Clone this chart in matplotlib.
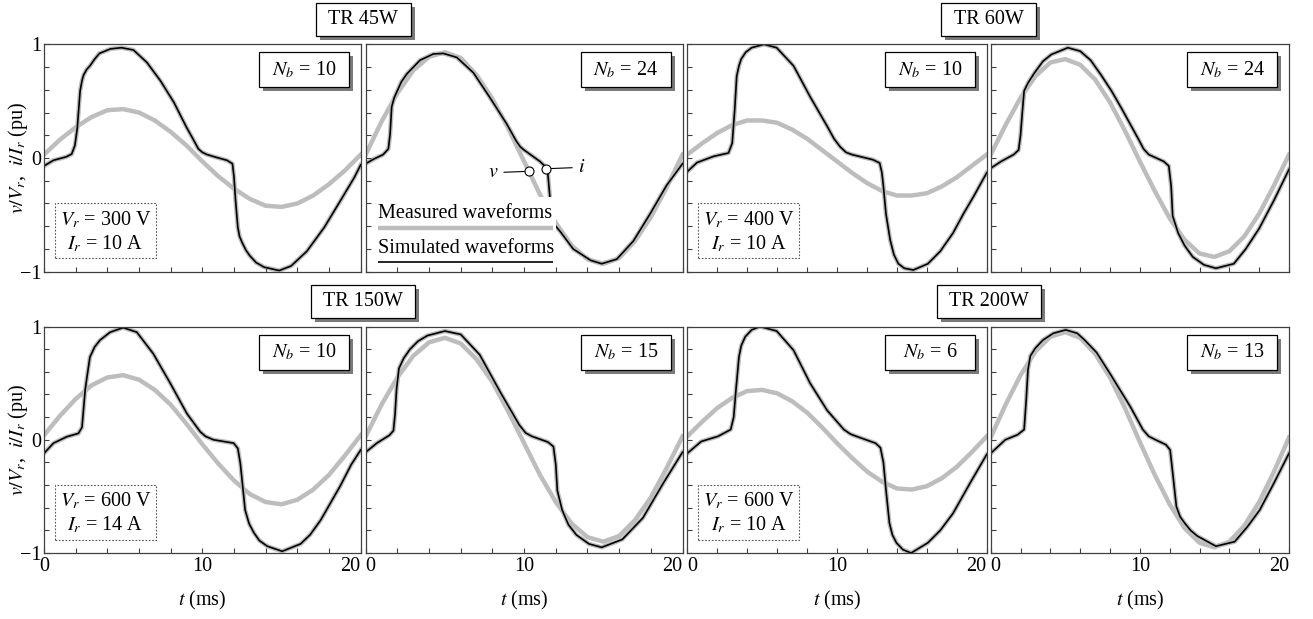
import matplotlib
matplotlib.use("Agg")
import matplotlib.pyplot as plt
import numpy as np
from matplotlib.patches import Rectangle

plt.rcParams["font.family"] = ["Liberation Serif", "DejaVu Serif"]
plt.rcParams["mathtext.fontset"] = "stix"
plt.rcParams["font.size"] = 14.5

# sample times (ms) of the voltage traces
T_V = np.arange(0, 21, 1.0)

# TR 45W, Nb = 10
V_45_10 = [0.03, 0.16, 0.27, 0.36, 0.42, 0.43, 0.40, 0.33, 0.23, 0.11, -0.03,
           -0.16, -0.27, -0.36, -0.42, -0.43, -0.40, -0.33, -0.23, -0.11, 0.03]
T_I_45_10 = [0, 0.6, 1.4, 1.75, 1.95, 2.1, 2.28, 2.4, 2.5, 2.7, 2.9, 3.2, 3.5,
             4.2, 4.9, 5.65, 6.5, 7.35, 8.2, 9.0, 9.4, 9.75, 10.0, 10.3, 10.9,
             11.55, 11.9, 12.0, 12.1, 12.24, 12.35, 12.5, 12.75, 13.0, 13.4,
             13.9, 14.85, 15.6, 16.6, 17.7, 18.7, 19.6, 20]
I_45_10 = [-0.07, -0.02, 0.01, 0.035, 0.11, 0.26, 0.59, 0.68, 0.73, 0.78, 0.81,
           0.87, 0.92, 0.96, 0.97, 0.95, 0.84, 0.68, 0.49, 0.27, 0.17, 0.08,
           0.05, 0.03, 0.005, -0.02, -0.05, -0.17, -0.38, -0.61, -0.69, -0.74,
           -0.81, -0.86, -0.92, -0.96, -0.99, -0.95, -0.82, -0.61, -0.38,
           -0.17, -0.06]

# TR 45W, Nb = 24
V_45_24 = [0.03, 0.32, 0.57, 0.77, 0.89, 0.93, 0.88, 0.73, 0.52, 0.26, -0.03,
           -0.32, -0.57, -0.77, -0.89, -0.93, -0.88, -0.73, -0.52, -0.26, 0.03]
T_I_45_24 = [0, 0.5, 1.1, 1.43, 1.54, 1.64, 1.8, 1.96, 2.25, 2.6, 3.43, 4.27,
             4.9, 5.75, 6.8, 7.85, 8.9, 9.5, 9.75, 10.0, 10.5, 11.0, 11.3, 11.5,
             11.6, 11.7, 11.85, 12.0, 12.3, 13.1, 14.2, 14.9, 15.85, 16.9,
             17.96, 19.0, 20]
I_45_24 = [-0.05, -0.01, 0.03, 0.08, 0.21, 0.45, 0.53, 0.58, 0.67, 0.74, 0.86,
           0.915, 0.92, 0.885, 0.75, 0.53, 0.30, 0.15, 0.10, 0.07, 0.02, -0.03,
           -0.07, -0.14, -0.30, -0.45, -0.56, -0.60, -0.65, -0.80, -0.90,
           -0.93, -0.89, -0.73, -0.49, -0.24, -0.05]

# TR 60W, Nb = 10
V_60_10 = [0.03, 0.13, 0.22, 0.29, 0.33, 0.33, 0.31, 0.25, 0.17, 0.07, -0.03,
           -0.13, -0.22, -0.29, -0.33, -0.33, -0.31, -0.25, -0.17, -0.07, 0.03]
T_I_60_10 = [0, 0.65, 1.77, 2.75, 3.0, 3.17, 3.3, 3.45, 3.6, 3.9, 4.3, 5.13,
             5.97, 7.1, 8.2, 9.34, 9.8, 10.2, 10.6, 11.0, 12.4, 12.85, 13.0,
             13.1, 13.27, 13.55, 13.8, 14.1, 14.5, 15.1, 16.07, 16.9, 17.75,
             18.45, 19.16, 20]
I_60_10 = [-0.12, -0.04, 0.015, 0.044, 0.13, 0.43, 0.72, 0.81, 0.87, 0.93,
           0.97, 1.0, 0.97, 0.81, 0.54, 0.28, 0.17, 0.10, 0.05, 0.03, -0.015,
           -0.044, -0.13, -0.25, -0.49, -0.72, -0.85, -0.93, -0.97, -0.985,
           -0.93, -0.82, -0.66, -0.49, -0.33, -0.13]

# TR 60W, Nb = 24
V_60_24 = [0.03, 0.29, 0.53, 0.72, 0.84, 0.87, 0.82, 0.69, 0.49, 0.24, -0.03,
           -0.29, -0.53, -0.72, -0.84, -0.87, -0.82, -0.69, -0.49, -0.24, 0.03]
T_I_60_24 = [0, 0.7, 1.54, 1.87, 2.0, 2.1, 2.24, 2.5, 2.94, 3.5, 4.06, 5.17,
             6.0, 6.7, 7.4, 8.1, 8.8, 9.93, 10.25, 10.6, 11.6, 11.94, 12.1,
             12.2, 12.57, 13.0, 13.55, 14.3, 15.1, 16.3, 17.1, 18.0, 19.0, 20]
I_60_24 = [-0.09, -0.03, 0.03, 0.07, 0.20, 0.37, 0.59, 0.66, 0.75, 0.85, 0.91,
           0.97, 0.94, 0.86, 0.73, 0.59, 0.43, 0.16, 0.08, 0.03, -0.03, -0.07,
           -0.25, -0.51, -0.66, -0.77, -0.87, -0.94, -0.97, -0.93, -0.80,
           -0.62, -0.37, -0.10]

# TR 150W, Nb = 10
V_150_10 = [0.04, 0.21, 0.36, 0.48, 0.55, 0.57, 0.53, 0.44, 0.31, 0.14, -0.04,
            -0.21, -0.36, -0.48, -0.55, -0.57, -0.53, -0.44, -0.31, -0.14, 0.04]
T_I_150_10 = [0, 0.6, 1.43, 2.17, 2.4, 2.6, 2.7, 2.9, 3.2, 3.54, 4.18, 5.0,
              5.86, 6.9, 7.97, 9.03, 9.87, 10.2, 10.7, 11.98, 12.24, 12.4,
              12.57, 12.7, 12.95, 13.25, 13.6, 14.1, 15.04, 16.2, 16.8, 17.47,
              18.7, 19.4, 20]
I_150_10 = [-0.12, -0.03, 0.026, 0.056, 0.11, 0.44, 0.54, 0.73, 0.82, 0.88,
            0.95, 0.99, 0.95, 0.76, 0.50, 0.23, 0.07, 0.03, 0.0, -0.03, -0.076,
            -0.21, -0.44, -0.62, -0.74, -0.82, -0.89, -0.94, -0.985, -0.92,
            -0.84, -0.71, -0.41, -0.22, -0.09]

# TR 150W, Nb = 15
V_150_15 = [0.03, 0.31, 0.55, 0.74, 0.86, 0.90, 0.85, 0.71, 0.51, 0.25, -0.03,
            -0.31, -0.55, -0.74, -0.86, -0.90, -0.85, -0.71, -0.51, -0.25, 0.03]
T_I_150_15 = [0, 0.7, 1.5, 1.75, 1.85, 1.95, 2.1, 2.4, 2.8, 3.3, 3.9, 5.0, 6.0,
              7.2, 8.5, 9.7, 10.1, 10.5, 11.5, 11.85, 12.0, 12.1, 12.4, 12.8,
              13.3, 14.1, 14.9, 16.2, 17.5, 18.8, 20]
I_150_15 = [-0.11, -0.03, 0.04, 0.08, 0.22, 0.45, 0.63, 0.72, 0.80, 0.87, 0.92,
            0.96, 0.93, 0.75, 0.42, 0.13, 0.06, 0.03, -0.02, -0.06, -0.22,
            -0.45, -0.62, -0.75, -0.84, -0.92, -0.95, -0.88, -0.69, -0.38,
            -0.11]

# TR 200W, Nb = 6
V_200_6 = [0.03, 0.16, 0.28, 0.37, 0.43, 0.44, 0.41, 0.34, 0.24, 0.11, -0.03,
           -0.16, -0.28, -0.37, -0.43, -0.44, -0.41, -0.34, -0.24, -0.11, 0.03]
T_I_200_6 = [0, 0.93, 2.05, 2.9, 3.1, 3.25, 3.45, 3.6, 3.87, 4.3, 4.85, 5.97,
             7.1, 8.2, 9.34, 10.46, 10.9, 11.3, 12.57, 12.9, 13.1, 13.27, 13.5,
             13.7, 13.97, 14.4, 14.95, 16.07, 16.9, 17.75, 18.9, 20]
I_200_6 = [-0.12, -0.015, 0.03, 0.09, 0.20, 0.44, 0.73, 0.83, 0.91, 0.97, 1.0,
           0.96, 0.79, 0.50, 0.26, 0.09, 0.05, 0.03, -0.03, -0.07, -0.20,
           -0.44, -0.735, -0.84, -0.91, -0.97, -1.0, -0.91, -0.80, -0.65,
           -0.38, -0.13]

# TR 200W, Nb = 13
V_200_13 = [0.02, 0.31, 0.57, 0.78, 0.91, 0.95, 0.90, 0.76, 0.55, 0.28, -0.02,
            -0.31, -0.57, -0.78, -0.91, -0.95, -0.90, -0.76, -0.55, -0.28, 0.02]
T_I_200_13 = [0, 0.98, 1.8, 2.24, 2.38, 2.5, 2.66, 3.0, 3.5, 4.2, 5.03, 5.8,
              6.3, 7.1, 7.97, 9.37, 10.2, 10.6, 11.05, 11.75, 12.03, 12.2,
              12.45, 12.7, 13.0, 13.4, 13.85, 15.1, 16.36, 17.2, 18.04, 19.0, 20]
I_200_13 = [-0.12, 0.0, 0.044, 0.09, 0.35, 0.62, 0.74, 0.81, 0.88, 0.94, 0.97,
            0.94, 0.88, 0.77, 0.59, 0.29, 0.09, 0.03, 0.0, -0.044, -0.09, -0.29,
            -0.59, -0.68, -0.735, -0.80, -0.85, -0.94, -0.90, -0.77, -0.62,
            -0.38, -0.12]

TITLES = ["TR 45W", "TR 60W", "TR 150W", "TR 200W"]
NB = [10, 24, 10, 24, 10, 15, 6, 13]
RATED = [("300 V", "10 A"), ("400 V", "10 A"), ("600 V", "14 A"), ("600 V", "10 A")]

VOLTAGES = [V_45_10, V_45_24, V_60_10, V_60_24, V_150_10, V_150_15, V_200_6, V_200_13]
CURRENT_T = [T_I_45_10, T_I_45_24, T_I_60_10, T_I_60_24,
             T_I_150_10, T_I_150_15, T_I_200_6, T_I_200_13]
CURRENTS = [I_45_10, I_45_24, I_60_10, I_60_24, I_150_10, I_150_15, I_200_6, I_200_13]

# layout in pixels, measured from the top-left corner
DPI = 100
FIG_W, FIG_H = 1313, 619
COLS = [(44, 360.7), (365.7, 682.5), (687.3, 986.7), (990.7, 1289)]
ROWS = [(44.3, 271.7), (326.5, 553)]

GRAY = "#bdbdbd"
FRAME = "#404040"


def fx(x):
    return x / FIG_W


def fy(y):
    return 1 - y / FIG_H


def add_box(fig, cx, cy, w, h, shadow=True, dotted=False):
    x0 = (cx - w / 2) / DPI
    y0 = (FIG_H - cy - h / 2) / DPI
    if shadow:
        fig.add_artist(Rectangle((x0 + 0.04, y0 - 0.04), w / DPI, h / DPI,
                                 transform=fig.dpi_scale_trans, fc="#7a7a7a",
                                 ec="none", zorder=5))
    if dotted:
        fig.add_artist(Rectangle((x0, y0), w / DPI, h / DPI,
                                 transform=fig.dpi_scale_trans, fc="white",
                                 ec="#555555", lw=0.8, ls=(0, (1.5, 1.5)), zorder=5))
    else:
        fig.add_artist(Rectangle((x0, y0), w / DPI, h / DPI,
                                 transform=fig.dpi_scale_trans, fc="white",
                                 ec="black", lw=0.9, zorder=5))


def draw_panel(fig, k):
    row, col = divmod(k, 4)
    left, right = COLS[col]
    top, bottom = ROWS[row]
    ax = fig.add_axes([fx(left), fy(bottom), fx(right - left), (bottom - top) / FIG_H])

    ax.plot(T_V, VOLTAGES[k], color=GRAY, lw=3.2, zorder=2)
    ax.plot(CURRENT_T[k], CURRENTS[k], color=GRAY, lw=3.2, zorder=2)
    ax.plot(CURRENT_T[k], CURRENTS[k], color="black", lw=1.2, zorder=2.1)

    ax.set_xlim(0, 20)
    ax.set_ylim(-1, 1)
    ax.set_xticks([0, 10, 20])
    ax.set_xticks(np.arange(0, 21, 2), minor=True)
    ax.set_yticks([-1, 0, 1])
    ax.set_yticks(np.linspace(-1, 1, 11), minor=True)
    ax.set_axisbelow(False)
    ax.tick_params(which="both", direction="in", length=3.8, width=0.8,
                   color=FRAME, top=False, right=False,
                   labelbottom=(row == 1), labelleft=(col == 0))
    ax.tick_params(axis="x", pad=3)
    ax.tick_params(axis="y", pad=2)
    for sp in ax.spines.values():
        sp.set_color(FRAME)
        sp.set_linewidth(0.9)

    if row == 1:
        # "20" ends at the right frame, the next panel's "0" starts after it
        labels = ax.get_xticklabels()
        labels[-1].set_ha("right")
        if col > 0:
            labels[0].set_ha("left")

    # N_b box in the upper right corner
    cx = right - 11.7 - 45
    cy = top + 8 + 17.5
    add_box(fig, cx, cy, 90, 35)
    fig.text(fx(cx), fy(cy), r"$N_b$ = %d" % NB[k], ha="center", va="center", zorder=6)

    if row == 1:
        fig.text(fx((left + right) / 2), fy(600), r"$t$ (ms)", ha="center", va="center")
    if col == 0:
        fig.text(fx(18), fy((top + bottom) / 2), r"$v/V_r$,  $i/I_r$ (pu)",
                 rotation=90, ha="center", va="center")
    return ax


def draw_rating(fig, k):
    row, col = divmod(k, 4)
    left = COLS[col][0]
    bottom = ROWS[row][1]
    vr, ir = RATED[k // 2]
    cx = left + 11 + 50.5
    cy = bottom - 13.5 - 27.5
    add_box(fig, cx, cy, 101, 55, shadow=False, dotted=True)
    fig.text(fx(cx), fy(cy - 11), r"$V_r$ = " + vr, ha="center", va="center", zorder=6)
    fig.text(fx(cx), fy(cy + 13), r"$I_r$ = " + ir, ha="center", va="center", zorder=6)


def draw_legend(ax):
    ax.add_patch(Rectangle((0.02, 0.0), 0.58, 0.33, transform=ax.transAxes,
                           fc="white", ec="none", zorder=2.2))
    ax.text(0.04, 0.258, "Measured waveforms", transform=ax.transAxes,
            ha="left", va="center", zorder=3)
    ax.plot([0.04, 0.59], [0.192, 0.192], transform=ax.transAxes,
            color=GRAY, lw=3.2, solid_capstyle="butt", zorder=3)
    ax.text(0.04, 0.104, "Simulated waveforms", transform=ax.transAxes,
            ha="left", va="center", zorder=3)
    ax.plot([0.04, 0.59], [0.043, 0.043], transform=ax.transAxes,
            color="black", lw=1.2, solid_capstyle="butt", zorder=3)

    # v and i markers on the 45W traces
    tv, ti = 10.3, 11.37
    yv = np.interp(tv, T_V, V_45_24)
    yi = np.interp(ti, T_I_45_24, I_45_24)
    ax.annotate(r"$v$", xy=(tv, yv), xytext=(-22, -1), textcoords="offset points",
                ha="right", va="center", zorder=4,
                arrowprops=dict(arrowstyle="-", lw=0.8, color="black",
                                shrinkA=2, shrinkB=3))
    ax.annotate(r"$i$", xy=(ti, yi), xytext=(23, 1), textcoords="offset points",
                ha="left", va="center", zorder=4,
                arrowprops=dict(arrowstyle="-", lw=0.8, color="black",
                                shrinkA=2, shrinkB=3))
    ax.plot([tv, ti], [yv, yi], ls="none", marker="o", ms=6.5, mfc="white",
            mec="black", mew=0.8, zorder=4)


def main():
    fig = plt.figure(figsize=(FIG_W / DPI, FIG_H / DPI), dpi=DPI)
    axes = [draw_panel(fig, k) for k in range(8)]
    for k in (0, 2, 4, 6):
        draw_rating(fig, k)
    draw_legend(axes[1])

    widths = [95, 95, 104, 104]
    for n, title in enumerate(TITLES):
        row, pair = divmod(n, 2)
        cx = (COLS[2 * pair][1] + COLS[2 * pair + 1][0]) / 2
        cy = ROWS[row][0] - 24.6
        add_box(fig, cx, cy, widths[n], 33)
        fig.text(fx(cx), fy(cy), title, ha="center", va="center", zorder=6)

    fig.savefig("out.png", dpi=DPI)


if __name__ == "__main__":
    main()
